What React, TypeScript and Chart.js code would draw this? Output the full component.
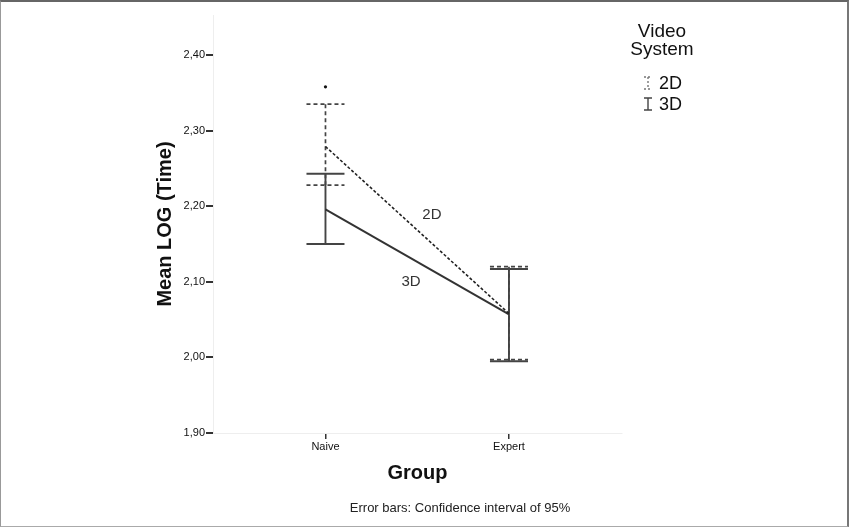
import { useEffect, useRef } from "react";
import { Chart, registerables } from "chart.js";

Chart.register(...registerables);

// groups on the x axis (positions 0 and 1)
const groups = ["Naive", "Expert"];
const groupPos = [0, 1];

// mean LOG(Time) and 95% CI per group
const mean2D = [2.279, 2.058];
const lower2D = [2.228, 1.997];
const upper2D = [2.335, 2.12];
const mean3D = [2.196, 2.057];
const lower3D = [2.15, 1.995];
const upper3D = [2.243, 2.117];

// stray point above the 2D naive bar
const outlierPos = [0];
const outlierVal = [2.358];

const yTicks = [1.9, 2.0, 2.1, 2.2, 2.3, 2.4];

// in-plot line labels
const lineLabels = ["2D", "3D"];
const lineLabelX = [0.58, 0.466];
const lineLabelY = [2.188, 2.1];

const FONT = "'Liberation Sans', Arial, sans-serif";

const errorBars = {
  id: "errorBars",
  beforeDatasetsDraw(chart: any) {
    const { ctx, scales } = chart;
    const x = scales.x;
    const y = scales.y;
    const bars = [
      { lo: lower2D, hi: upper2D, dash: [4, 3], color: "#444", width: 1.7 },
      { lo: lower3D, hi: upper3D, dash: [], color: "#444", width: 1.9 },
    ];
    ctx.save();
    bars.forEach((b) => {
      ctx.strokeStyle = b.color;
      ctx.lineWidth = b.width;
      ctx.setLineDash(b.dash);
      groupPos.forEach((g, i) => {
        const px = x.getPixelForValue(g);
        const top = y.getPixelForValue(b.hi[i]);
        const bot = y.getPixelForValue(b.lo[i]);
        ctx.beginPath();
        ctx.moveTo(px, top);
        ctx.lineTo(px, bot);
        ctx.moveTo(px - 19, top);
        ctx.lineTo(px + 19, top);
        ctx.moveTo(px - 19, bot);
        ctx.lineTo(px + 19, bot);
        ctx.stroke();
      });
    });
    ctx.restore();
  },
  afterDraw(chart: any) {
    const { ctx, scales } = chart;
    ctx.save();
    ctx.fillStyle = "#333";
    ctx.textAlign = "center";
    ctx.textBaseline = "middle";
    ctx.font = `15px ${FONT}`;
    lineLabels.forEach((t, i) => {
      ctx.fillText(t, scales.x.getPixelForValue(lineLabelX[i]), scales.y.getPixelForValue(lineLabelY[i]));
    });

    // footnote
    ctx.fillStyle = "#222";
    ctx.font = `13px ${FONT}`;
    ctx.fillText("Error bars: Confidence interval of 95%", 460, 508);

    // legend
    ctx.fillStyle = "#111";
    ctx.font = `19px ${FONT}`;
    ctx.fillText("Video", 662, 32);
    ctx.fillText("System", 662, 50);
    ctx.textAlign = "left";
    ctx.font = `18px ${FONT}`;
    const items = [
      { label: "2D", y: 83, dash: [2, 2], color: "#777" },
      { label: "3D", y: 104, dash: [], color: "#444" },
    ];
    items.forEach((it) => {
      ctx.strokeStyle = it.color;
      ctx.lineWidth = 1.4;
      ctx.setLineDash(it.dash);
      ctx.beginPath();
      ctx.moveTo(648, it.y - 6);
      ctx.lineTo(648, it.y + 6);
      ctx.moveTo(644, it.y - 6);
      ctx.lineTo(652, it.y - 6);
      ctx.moveTo(644, it.y + 6);
      ctx.lineTo(652, it.y + 6);
      ctx.stroke();
      ctx.fillStyle = "#111";
      ctx.fillText(it.label, 659, it.y + 1);
    });
    ctx.restore();
  },
};

function MeansChart() {
  const ref = useRef<HTMLCanvasElement>(null);

  useEffect(() => {
    if (!ref.current) return;
    const chart = new Chart(ref.current, {
      type: "line",
      data: {
        datasets: [
          {
            label: "2D",
            data: groupPos.map((g, i) => ({ x: g, y: mean2D[i] })),
            borderColor: "#222",
            borderWidth: 1.6,
            borderDash: [3, 2],
            pointRadius: 0,
          },
          {
            label: "3D",
            data: groupPos.map((g, i) => ({ x: g, y: mean3D[i] })),
            borderColor: "#333",
            borderWidth: 2,
            pointRadius: 0,
          },
          {
            label: "outlier",
            data: outlierPos.map((g, i) => ({ x: g, y: outlierVal[i] })),
            showLine: false,
            pointRadius: 1.6,
            pointBackgroundColor: "#111",
            pointBorderWidth: 0,
          },
        ],
      },
      options: {
        animation: false,
        responsive: true,
        maintainAspectRatio: false,
        layout: { padding: { left: 0, top: 15, right: 228, bottom: 0 } },
        plugins: {
          legend: { display: false },
          tooltip: { enabled: false },
        },
        scales: {
          x: {
            type: "linear",
            min: -0.613,
            max: 1.616,
            afterBuildTicks: (scale: any) => {
              scale.ticks = groupPos.map((v) => ({ value: v }));
            },
            afterFit: (scale: any) => {
              scale.height = 94;
            },
            ticks: {
              callback: (v: any) => groups[groupPos.indexOf(Number(v))] ?? "",
              color: "#111",
              font: { family: FONT, size: 11 },
              padding: 1,
              maxRotation: 0,
            },
            grid: { drawOnChartArea: false, color: "#333", tickLength: 6, lineWidth: 1.5 },
            border: { color: "#eee", width: 1 },
            title: {
              display: true,
              text: "Group",
              color: "#111",
              font: { family: FONT, size: 20, weight: "bold" },
              padding: { top: 0, bottom: 42 },
            },
          },
          y: {
            min: 1.9,
            max: 2.453,
            afterBuildTicks: (scale: any) => {
              scale.ticks = yTicks.map((v) => ({ value: v }));
            },
            afterFit: (scale: any) => {
              scale.width = 213;
            },
            ticks: {
              callback: (v: any) => Number(v).toFixed(2).replace(".", ","),
              color: "#111",
              font: { family: FONT, size: 11 },
              padding: 1,
            },
            grid: { drawOnChartArea: false, color: "#333", tickLength: 7, lineWidth: 2 },
            border: { color: "#eee", width: 1 },
            title: {
              display: true,
              text: "Mean LOG (Time)",
              color: "#111",
              font: { family: FONT, size: 20, weight: "bold" },
              padding: { top: 153, bottom: 0 },
            },
          },
        },
      },
      plugins: [errorBars],
    });
    return () => {
      chart.destroy();
    };
  }, [ref]);

  return <canvas ref={ref} />;
}

export default function App() {
  return (
    <div style={{ position: "absolute", left: 0, top: 0, width: 850, height: 527, background: "#fff" }}>
      <div style={{ position: "absolute", inset: 0 }}>
        <MeansChart />
      </div>
      <div
        style={{
          position: "absolute",
          left: 0,
          top: 0,
          width: 849,
          height: 527,
          boxSizing: "border-box",
          borderTop: "2px solid #666",
          borderLeft: "1px solid #999",
          borderRight: "2px solid #777",
          borderBottom: "1px solid #aaa",
          pointerEvents: "none",
        }}
      />
    </div>
  );
}
